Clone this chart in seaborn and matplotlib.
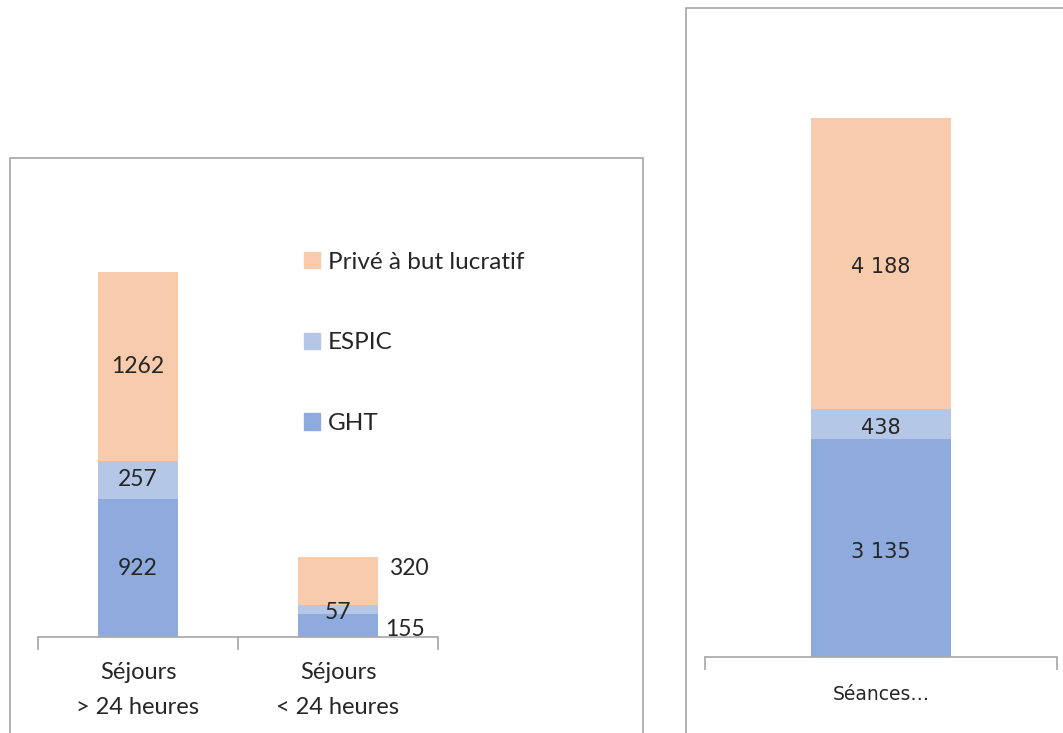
import seaborn as sns
import pandas as pd
import numpy as np
import matplotlib.pyplot as plt
from matplotlib.patches import Rectangle, Patch

# données
sejours = ["Séjours\n> 24 heures", "Séjours\n< 24 heures"]
ght_sej = [922, 155]
espic_sej = [257, 57]
prive_sej = [1262, 320]

seances = ["Séances…"]
ght_sea = [3135]
espic_sea = [438]
prive_sea = [4188]

series = ["GHT", "ESPIC", "Privé à but lucratif"]
colors = {"GHT": "#8FAADC", "ESPIC": "#B4C7E7", "Privé à but lucratif": "#F8CBAD"}

sns.set_style("white")
plt.rcParams["font.family"] = ["Lato", "DejaVu Sans"]

W, H = 1063, 733
fig = plt.figure(figsize=(W / 100, H / 100), dpi=100)


def fx(px):
    return px / W


def fy(px):
    return 1 - px / H


# cadres des deux graphiques
fig.patches.append(Rectangle((fx(10), fy(740)), fx(633), fy(158) - fy(740),
                             transform=fig.transFigure, fill=False,
                             edgecolor="#a6a6a6", lw=1.2))
fig.patches.append(Rectangle((fx(686), fy(740)), fx(400), fy(8) - fy(740),
                             transform=fig.transFigure, fill=False,
                             edgecolor="#a6a6a6", lw=1.2))


def stacked(ax, cats, ght, espic, prive):
    df = pd.DataFrame({"cat": cats, "GHT": ght, "ESPIC": espic,
                       "Privé à but lucratif": prive})
    bottom = np.zeros(len(cats))
    for s in series:
        sns.barplot(data=df, x="cat", y=s, color=colors[s], width=0.4,
                    bottom=bottom, ax=ax, linewidth=0, saturation=1)
        bottom = bottom + df[s].to_numpy()
    n = len(cats)
    ax.set_xlim(-0.5, n - 0.5)
    ax.set_xlabel("")
    ax.set_ylabel("")
    ax.set_yticks([])
    for sp in ["left", "right", "top"]:
        ax.spines[sp].set_visible(False)
    ax.spines["bottom"].set_color("#a6a6a6")
    ax.spines["bottom"].set_linewidth(1.2)
    ax.set_xticks(np.arange(-0.5, n), minor=True)
    ax.tick_params(axis="x", which="minor", bottom=True, length=9,
                   color="#a6a6a6", width=1.2, direction="out")
    ax.tick_params(axis="x", which="major", bottom=True, length=0, pad=18)
    ax.patch.set_alpha(0)
    return df


# graphique de gauche : séjours
ax1 = fig.add_axes([fx(38), fy(637), fx(400), fy(158) - fy(637)])
df1 = stacked(ax1, sejours, ght_sej, espic_sej, prive_sej)
ax1.set_ylim(0, (637 - 158) / 0.1495)
ax1.set_xticklabels(sejours, fontsize=17, linespacing=1.8)

fs = 16.5
for i in range(len(sejours)):
    g, e, p = ght_sej[i], espic_sej[i], prive_sej[i]
    if i == 0:
        ax1.text(i, g / 2, str(g), ha="center", va="center", fontsize=fs)
        ax1.text(i, g + e / 2, str(e), ha="center", va="center", fontsize=fs)
        ax1.text(i, g + e + p / 2, str(p), ha="center", va="center", fontsize=fs)
    else:
        ax1.annotate(str(g), (i + 0.2, 0), xytext=(5, -2), textcoords="offset points",
                     ha="left", va="bottom", fontsize=fs)
        ax1.annotate(str(e), (i, g + e / 2), xytext=(0, -2), textcoords="offset points",
                     ha="center", va="center", fontsize=fs)
        ax1.annotate(str(p), (i + 0.2, g + e + p), xytext=(8, -8), textcoords="offset points",
                     ha="left", va="center", fontsize=fs)

handles = [Patch(color=colors[s], label=s) for s in reversed(series)]
ax1.legend(handles=handles, loc="upper left", bbox_to_anchor=(fx(282), fy(230)),
           bbox_transform=fig.transFigure, frameon=False, fontsize=17.5,
           handlelength=0.65, handleheight=0.65, handletextpad=0.35,
           labelspacing=2.45)

# graphique de droite : séances
ax2 = fig.add_axes([fx(705), fy(657), fx(352), fy(8) - fy(657)])
df2 = stacked(ax2, seances, ght_sea, espic_sea, prive_sea)
ax2.set_ylim(0, (657 - 8) / 0.0695)
ax2.set_xticklabels(seances, fontsize=13.5, family="DejaVu Sans")
ax2.tick_params(axis="x", which="major", pad=20)


def fr(v):
    return f"{v:,}".replace(",", " ")


g, e, p = ght_sea[0], espic_sea[0], prive_sea[0]
for val, y in [(g, g / 2), (e, g + e / 2), (p, g + e + p / 2)]:
    ax2.annotate(fr(val), (0, y), xytext=(0, -3), textcoords="offset points",
                 ha="center", va="center", fontsize=15, family="DejaVu Sans")

fig.savefig("out.png", dpi=100)
